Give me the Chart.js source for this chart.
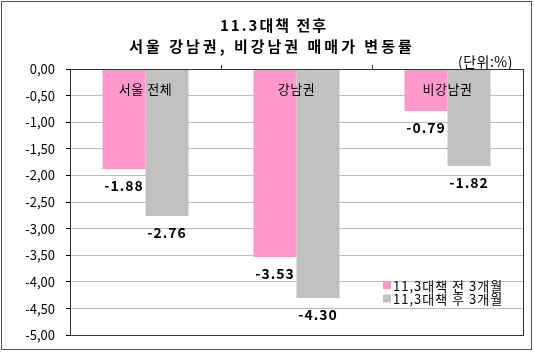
<!DOCTYPE html>
<html><head><meta charset="utf-8">
<script src="https://cdn.jsdelivr.net/npm/chart.js@4"></script>
<style>html,body{margin:0;padding:0;background:#fff}#wrap{width:534px;height:354px;position:relative}</style>
</head><body><div id="wrap"><canvas id="c" width="534" height="354"></canvas></div>
<script>
const titleLines = ['11.3대책 전후', '서울 강남권, 비강남권 매매가 변동률'];
const unitLabel = '(단위:%)';
const categories = ['서울 전체', '강남권', '비강남권'];
const seriesNames = ['11,3대책 전 3개월', '11,3대책 후 3개월'];
const beforeValues = [-1.88, -3.53, -0.79];
const afterValues = [-2.76, -4.30, -1.82];
const yTickValues = [0, -0.5, -1, -1.5, -2, -2.5, -3, -3.5, -4, -4.5, -5];
const yTickLabels = ['0,00','-0,50','-1,00','-1,50','-2,00','-2,50','-3,00','-3,50','-4,00','-4,50','-5,00'];

const FONT = '"Noto Sans CJK KR", "Noto Sans", sans-serif';
const colors = ['#FF99CC', '#C0C0C0'];

const deco = {
  id: 'deco',
  afterDatasetsDraw(chart) {
    const ctx = chart.ctx, a = chart.chartArea, x = chart.scales.x;
    ctx.save();
    ctx.strokeStyle = '#333'; ctx.lineWidth = 1;
    ctx.strokeRect(Math.round(a.left)+0.5, Math.round(a.top)+0.5, Math.round(a.right-a.left), Math.round(a.bottom-a.top));
    for (let i = 1; i < categories.length; i++) {
      const px = Math.round((x.getPixelForValue(i-1) + x.getPixelForValue(i)) / 2) + 0.5;
      ctx.beginPath(); ctx.moveTo(px, a.top); ctx.lineTo(px, a.top - 4); ctx.stroke();
    }
    ctx.fillStyle = '#000'; ctx.textAlign = 'center'; ctx.textBaseline = 'middle';
    ctx.font = '13px ' + FONT;
    ctx.letterSpacing = '0.5px';
    categories.forEach((c, i) => ctx.fillText(c, x.getPixelForValue(i), a.top + 20));
    ctx.font = 'bold 14px ' + FONT;
    ctx.letterSpacing = '1px';
    chart.data.datasets.forEach((ds, di) => {
      chart.getDatasetMeta(di).data.forEach((bar, i) => {
        ctx.fillText(ds.data[i].toFixed(2), bar.x, bar.y + 17);
      });
    });
    ctx.font = '13px ' + FONT; ctx.textAlign = 'left';
    ctx.letterSpacing = '1px';
    seriesNames.forEach((n, i) => {
      const ly = 285 + i * 13.5;
      ctx.fillStyle = colors[i]; ctx.fillRect(383, ly - 4, 8, 8);
      ctx.fillStyle = '#000'; ctx.fillText(n, 393, ly + 1);
    });
    ctx.textAlign = 'center'; ctx.font = 'bold 15px ' + FONT;
    ctx.letterSpacing = '2px';
    ctx.fillText(titleLines[0], 274, 25);
    ctx.letterSpacing = '3px';
    ctx.fillText(titleLines[1], 272, 46);
    ctx.font = '14px ' + FONT; ctx.textAlign = 'right';
    ctx.letterSpacing = '0.5px';
    ctx.fillText(unitLabel, 513, 62);
    ctx.letterSpacing = '0px';
    ctx.strokeStyle = '#555';
    ctx.strokeRect(1.5, 1.5, 530, 348);
    ctx.restore();
  }
};

new Chart(document.getElementById('c'), {
  type: 'bar',
  data: {
    labels: categories,
    datasets: [
      { label: seriesNames[0], data: beforeValues, backgroundColor: colors[0], categoryPercentage: 0.57, barPercentage: 1 },
      { label: seriesNames[1], data: afterValues, backgroundColor: colors[1], categoryPercentage: 0.57, barPercentage: 1 }
    ]
  },
  options: {
    responsive: false, animation: false,
    layout: { padding: { left: 0, top: 69, right: 11, bottom: 17 } },
    plugins: { legend: { display: false }, title: { display: false }, tooltip: { enabled: false } },
    scales: {
      x: { display: false },
      y: {
        min: -5, max: 0,
        afterFit(s) { s.width = 70; },
        afterBuildTicks(s) { s.ticks = yTickValues.map(v => ({ value: v })); },
        ticks: {
          color: '#000', font: { size: 13, family: FONT }, padding: 11,
          callback: (v) => { const i = yTickValues.indexOf(v); return i >= 0 ? yTickLabels[i] : ''; }
        },
        grid: { color: '#BBBBBB', borderDash: [4, 4], tickBorderDash: [], tickColor: '#000', tickLength: 4, lineWidth: 1 },
        border: { display: true, color: '#333' }
      }
    }
  },
  plugins: [deco]
});
</script></body></html>
